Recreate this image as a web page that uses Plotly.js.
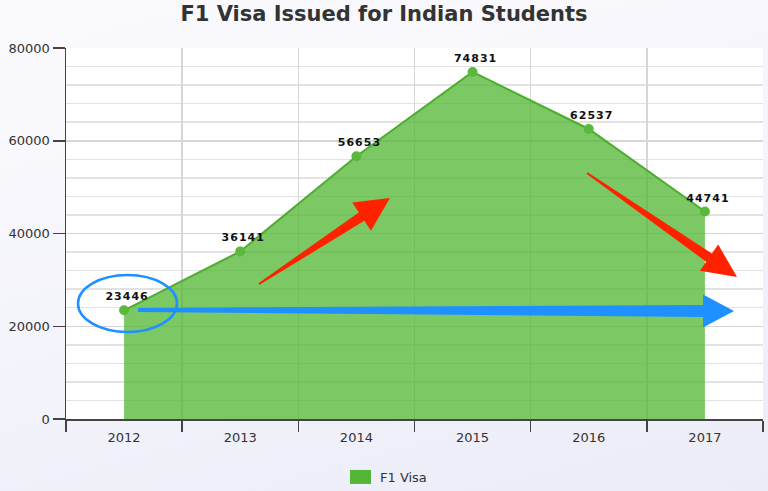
<!DOCTYPE html>
<html>
<head>
<meta charset="utf-8">
<script src="https://cdn.plot.ly/plotly-3.0.1.min.js"></script>
<style>
  html, body { margin: 0; padding: 0; }
  body { width: 768px; height: 491px; background: linear-gradient(165deg, #fbfbfe 0%, #f3f3fb 55%, #ececf8 100%); }
  #chart { width: 768px; height: 491px; }
</style>
</head>
<body>
<div id="chart"></div>
<script>
// ---- data ----
const years = ["2012", "2013", "2014", "2015", "2016", "2017"];
const visas = [23446, 36141, 56653, 74831, 62537, 44741];
const seriesName = "F1 Visa";
const chartTitle = "F1 Visa Issued for Indian Students";
const yTickVals = [0, 20000, 40000, 60000, 80000];

// ---- plot-area geometry (pixels) used for overlay drawings ----
const PL = 66, PR = 763, PT = 48, PB = 419;
const px2x = p => (p - PL) / (PR - PL);
const py2y = p => (PB - p) / (PB - PT);

// overlay arrow (hand-drawn style) as polygon path in paper coords
function arrowPath(tail, tip, tailW, shaftW, headLen, headW) {
  const dx = tip[0] - tail[0], dy = tip[1] - tail[1];
  const L = Math.hypot(dx, dy);
  const ux = dx / L, uy = dy / L;
  const nx = -uy, ny = ux;
  const bx = tip[0] - ux * headLen, by = tip[1] - uy * headLen;
  const pts = [
    [tail[0] + nx * tailW / 2, tail[1] + ny * tailW / 2],
    [bx + nx * shaftW / 2, by + ny * shaftW / 2],
    [bx + nx * headW / 2, by + ny * headW / 2],
    [tip[0], tip[1]],
    [bx - nx * headW / 2, by - ny * headW / 2],
    [bx - nx * shaftW / 2, by - ny * shaftW / 2],
    [tail[0] - nx * tailW / 2, tail[1] - ny * tailW / 2]
  ];
  return 'M' + pts.map(p => px2x(p[0]).toFixed(4) + ',' + py2y(p[1]).toFixed(4)).join('L') + 'Z';
}

const RED = '#ff2200', BLUE = '#1e90ff';
const shapes = [
  { type: 'path', xref: 'paper', yref: 'paper', path: arrowPath([259, 284], [390, 198], 2, 10, 34, 34), fillcolor: RED, line: { width: 0 } },
  { type: 'path', xref: 'paper', yref: 'paper', path: arrowPath([587, 173], [737, 277], 2, 10, 34, 32), fillcolor: RED, line: { width: 0 } },
  { type: 'path', xref: 'paper', yref: 'paper', path: arrowPath([138, 310], [734, 311], 4, 12, 31, 33), fillcolor: BLUE, line: { width: 0 } },
  { type: 'circle', xref: 'paper', yref: 'paper', x0: px2x(78), x1: px2x(177), y0: py2y(332), y1: py2y(275), line: { color: BLUE, width: 2.5 }, fillcolor: 'rgba(0,0,0,0)' }
];

const areaTrace = {
  type: 'scatter', x: years, y: visas, name: seriesName,
  mode: 'none', fill: 'tozeroy', fillcolor: 'rgba(80,182,50,0.75)',
  hoverinfo: 'skip', showlegend: true
};
const lineTrace = {
  type: 'scatter', x: years, y: visas, name: seriesName,
  mode: 'lines+markers+text',
  line: { color: '#4cae2c', width: 2 },
  marker: { color: '#5ab83a', size: 10 },
  text: visas.map(String), textposition: 'top center',
  textfont: { family: 'DejaVu Sans', size: 11, color: '#111', weight: 'bold' },
  showlegend: false, cliponaxis: false
};

const layout = {
  width: 768, height: 491,
  margin: { l: PL, r: 768 - PR, t: PT, b: 491 - PB },
  paper_bgcolor: 'rgba(0,0,0,0)',
  plot_bgcolor: '#ffffff',
  font: { family: 'DejaVu Sans', color: '#333' },
  title: {
    text: chartTitle, x: 0.5, xanchor: 'center', y: 1 - 14 / 491, yanchor: 'middle', yref: 'container',
    font: { family: 'DejaVu Sans', size: 21, color: '#333', weight: 'bold' }
  },
  xaxis: {
    type: 'category', range: [-0.5, 5.5], tickson: 'boundaries',
    ticks: 'outside', ticklen: 11, tickcolor: '#444', tickwidth: 1.5,
    ticklabelstandoff: 6,
    showline: true, linecolor: '#444', linewidth: 1.5,
    showgrid: true, gridcolor: '#d6d6d6', gridwidth: 1.5,
    tickfont: { family: 'DejaVu Sans', size: 13, color: '#333' },
    fixedrange: true
  },
  yaxis: {
    range: [0, 80000], tickvals: yTickVals, ticktext: yTickVals.map(String),
    ticks: 'outside', ticklen: 12, tickcolor: '#444', tickwidth: 1.5,
    showline: true, linecolor: '#444', linewidth: 1.5,
    showgrid: true, gridcolor: '#d6d6d6', gridwidth: 1.5, zeroline: false,
    minor: { dtick: 4000, showgrid: true, gridcolor: '#e2e2e2', gridwidth: 1.5, ticks: '' },
    tickfont: { family: 'DejaVu Sans', size: 13, color: '#333' },
    fixedrange: true
  },
  showlegend: true,
  legend: {
    orientation: 'h', xref: 'container', yref: 'container',
    x: 386 / 768, xanchor: 'center', y: 1 - 477 / 491, yanchor: 'middle',
    font: { family: 'DejaVu Sans', size: 13, color: '#333' },
    bgcolor: 'rgba(0,0,0,0)'
  },
  shapes: shapes
};

Plotly.newPlot('chart', [areaTrace, lineTrace], layout, { displayModeBar: false, staticPlot: true }).then(gd => {
  // legend swatch drawn as a solid square like the original
  gd.querySelectorAll('.legend .js-fill').forEach(p => {
    p.setAttribute('d', 'M10,-7h21v14h-21z');
    p.style.fill = '#55b534';
    p.style.fillOpacity = 1;
  });
  // slight letter spacing on the point labels, as in the original
  gd.querySelectorAll('.scatterlayer .textpoint text').forEach(t => {
    t.setAttribute('letter-spacing', '1px');
    t.setAttribute('dx', '3');
  });
});
</script>
</body>
</html>
